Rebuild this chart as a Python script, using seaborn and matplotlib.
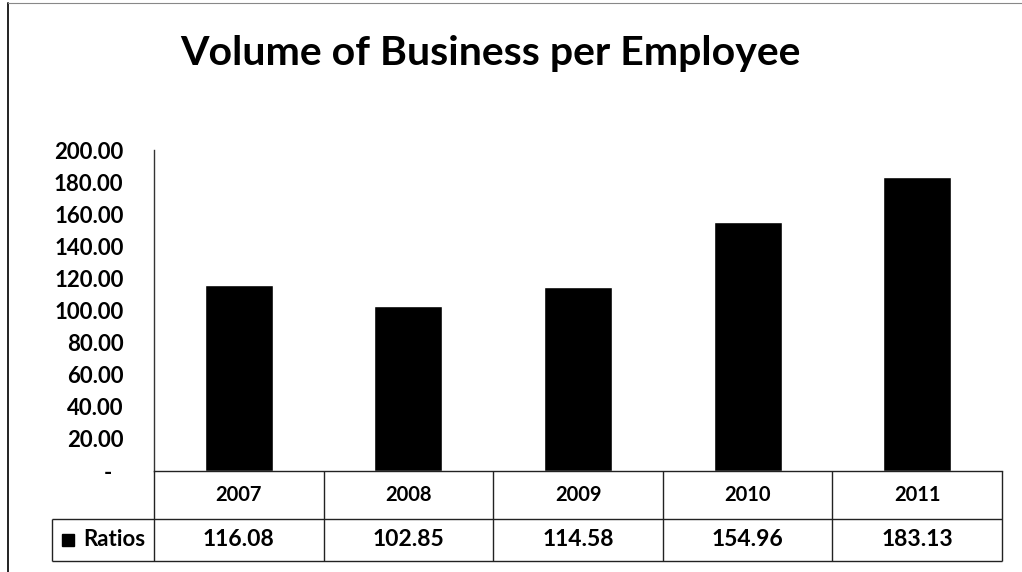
import matplotlib
matplotlib.use("Agg")
import matplotlib.pyplot as plt
import matplotlib.transforms as mtransforms
import seaborn as sns
import pandas as pd

years = ["2007", "2008", "2009", "2010", "2011"]
ratios = [116.08, 102.85, 114.58, 154.96, 183.13]
series_name = "Ratios"
title = "Volume of Business per Employee"
y_ticks = [0, 20, 40, 60, 80, 100, 120, 140, 160, 180, 200]

sns.set_theme(style="white")
plt.rcParams["font.family"] = ["Lato", "DejaVu Sans"]

W, H = 1022, 572
fig = plt.figure(figsize=(W / 100, H / 100), dpi=100)
fig.patch.set_facecolor("white")

# plot area in pixel terms: left 154, right 1002, top 150, bottom 471
ax = fig.add_axes([154 / W, (H - 471) / H, (1002 - 154) / W, (471 - 150) / H])

df = pd.DataFrame({"year": years, "value": ratios})
sns.barplot(data=df, x="year", y="value", color="black", width=0.4,
            saturation=1, ax=ax)

FW = "bold"  # text weight used throughout

ax.set_ylim(0, 200)
ax.set_xlim(-0.5, len(years) - 0.5)
ax.set_yticks(y_ticks)
ax.set_yticklabels(["-  " if v == 0 else f"{v:.2f}" for v in y_ticks],
                   fontsize=16, fontweight=FW, color="black")
ax.tick_params(axis="y", length=0, pad=22)
ax.set_xticks([])
ax.set_xlabel("")
ax.set_ylabel("")
for s in ["top", "right"]:
    ax.spines[s].set_visible(False)
ax.spines["left"].set_color("#333333")
ax.spines["left"].set_linewidth(1)
ax.spines["bottom"].set_color("#222222")
ax.spines["bottom"].set_linewidth(1)

# data table under the plot
px_y = lambda py: (471 - py) / (471 - 150)  # pixel row -> axes fraction
row1_bot = px_y(519)
row2_bot = px_y(561)
cat_px = (1002 - 154) / len(years)
label_left = -0.5 - (154 - 52) / cat_px
trans = mtransforms.blended_transform_factory(ax.transData, ax.transAxes)
lc = "#222222"
lw = 1.0

def seg(x0, x1, y0, y1):
    ax.plot([x0, x1], [y0, y1], color=lc, lw=lw, transform=trans,
            clip_on=False, solid_capstyle="butt")

right = len(years) - 0.5
seg(-0.5, right, row1_bot, row1_bot)
seg(label_left, -0.5, row1_bot, row1_bot)
seg(label_left, right, row2_bot, row2_bot)
seg(label_left, label_left, row1_bot, row2_bot)
for i in range(len(years) + 1):
    seg(i - 0.5, i - 0.5, 0, row2_bot)

for i, (yr, v) in enumerate(zip(years, ratios)):
    ax.text(i, (0 + row1_bot) / 2, yr, ha="center", va="center",
            fontsize=14.5, fontweight=FW, color="black", transform=trans)
    ax.text(i, (row1_bot + row2_bot) / 2, f"{v:.2f}", ha="center",
            va="center", fontsize=16.5, fontweight=FW, color="black",
            transform=trans)

ax.text(-0.5 - 9 / cat_px, (row1_bot + row2_bot) / 2, series_name,
        ha="right", va="center", fontsize=16, fontweight=FW, color="black",
        transform=trans)
ax.plot([label_left + 16 / cat_px], [(row1_bot + row2_bot) / 2], marker="s",
        markersize=9, color="black", transform=trans, clip_on=False)

fig.text(490 / W, 1 - 53 / H, title, ha="center", va="center",
         fontsize=29.5, fontweight="bold", color="black")

# outer frame lines (left and top)
fig.add_artist(plt.Line2D([8 / W, 8 / W], [0, 1 - 3 / H], color="#222222",
                          lw=1.4, transform=fig.transFigure))
fig.add_artist(plt.Line2D([8 / W, 1], [1 - 3 / H, 1 - 3 / H], color="#888888",
                          lw=0.8, transform=fig.transFigure))

fig.savefig("out.png", dpi=100, facecolor="white")
